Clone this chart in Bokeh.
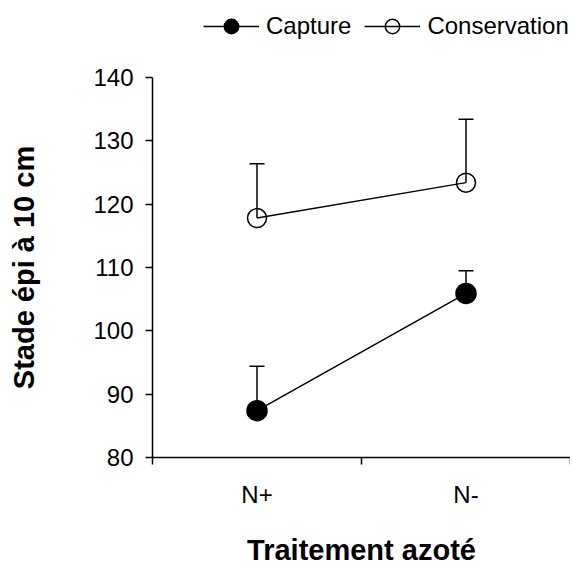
from bokeh.plotting import figure
from bokeh.layouts import column
from bokeh.models import (ColumnDataSource, FixedTicker, Whisker, TeeHead, Legend,
                          LegendItem, CustomJSTickFormatter, Range1d)
from bokeh.embed import file_html
from bokeh.resources import INLINE

categories = ["N+", "N-"]
capture = [87.4, 105.9]
capture_err_top = [94.4, 109.5]
conservation = [117.8, 123.4]
conservation_err_top = [126.4, 133.4]
y_ticks = [80, 90, 100, 110, 120, 130, 140]

FONT = "Liberation Sans"

W = 570
LEG_H = 65          # strip above the plot that holds the legend
MAIN_H = 503
LEFT = 152
TOP = 12
BOTTOM = 109

xs = [i + 0.5 for i in range(len(categories))]

src_cap = ColumnDataSource(dict(x=xs, y=capture, up=capture_err_top))
src_con = ColumnDataSource(dict(x=xs, y=conservation, up=conservation_err_top))

# ---------- main plot ----------
p = figure(width=W, height=MAIN_H, output_backend="svg", toolbar_location=None,
           x_range=Range1d(0, len(categories)),
           y_range=Range1d(y_ticks[0], y_ticks[-1]),
           min_border_left=LEFT, min_border_right=0, min_border_top=TOP,
           min_border_bottom=BOTTOM)
p.outline_line_color = None
p.grid.visible = False
p.background_fill_color = "white"

for src in (src_cap, src_con):
    w = Whisker(source=src, base="x", lower="y", upper="up", dimension="height",
                line_color="black", line_width=1.5,
                upper_head=TeeHead(size=15, line_color="black", line_width=1.5),
                lower_head=None)
    p.add_layout(w)

p.line("x", "y", source=src_cap, line_color="black", line_width=1.5)
p.scatter("x", "y", source=src_cap, size=20, marker="circle",
          fill_color="black", line_color="black", line_width=1.5)
p.line("x", "y", source=src_con, line_color="black", line_width=1.5)
p.scatter("x", "y", source=src_con, size=19, marker="circle",
          fill_color=None, line_color="black", line_width=1.5)

ya = p.yaxis[0]
ya.ticker = FixedTicker(ticks=y_ticks)
ya.major_tick_out = 7
ya.major_tick_in = 0
ya.minor_tick_line_color = None
ya.major_label_standoff = 12
ya.axis_label = "Stade épi à 10 cm"
ya.axis_label_standoff = 50

xa = p.xaxis[0]
xa.ticker = FixedTicker(ticks=xs, minor_ticks=list(range(len(categories) + 1)))
xa.formatter = CustomJSTickFormatter(args=dict(labels=categories),
                                     code="return labels[Math.floor(tick)]")
xa.major_tick_out = 0
xa.major_tick_in = 0
xa.minor_tick_out = 7
xa.minor_tick_in = 0
xa.major_label_standoff = 16
xa.axis_label = "Traitement azoté"
xa.axis_label_standoff = 23

for ax in (xa, ya):
    ax.axis_line_color = "black"
    ax.axis_line_width = 1.5
    ax.major_tick_line_color = "black"
    ax.major_tick_line_width = 1.5
    ax.major_label_text_font = FONT
    ax.major_label_text_font_size = "24px"
    ax.major_label_text_color = "black"
    ax.axis_label_text_font = FONT
    ax.axis_label_text_font_size = "29px"
    ax.axis_label_text_font_style = "bold"
    ax.axis_label_text_color = "black"
xa.minor_tick_line_color = "black"
xa.minor_tick_line_width = 1.5
xa.major_tick_line_color = None

# ---------- legend strip ----------
top = figure(width=W, height=LEG_H, output_backend="svg", toolbar_location=None,
             x_range=Range1d(0, len(categories)), y_range=Range1d(0, 1),
             x_axis_location=None, y_axis_location=None,
             min_border_left=0, min_border_right=0, min_border_top=0,
             min_border_bottom=0)
top.outline_line_color = None
top.grid.visible = False
top.background_fill_color = "white"

l1 = top.line("x", "y", source=src_cap, line_color="black", line_width=1.5)
s1 = top.scatter("x", "y", source=src_cap, size=20, marker="circle",
                 fill_color="black", line_color="black", line_width=1.5)
l2 = top.line("x", "y", source=src_con, line_color="black", line_width=1.5)
s2 = top.scatter("x", "y", source=src_con, size=19, marker="circle",
                 fill_color=None, line_color="black", line_width=1.5)

# the column aligns this strip's frame with the main plot's frame (left = LEFT)
GLYPH_H = 36
legend = Legend(items=[LegendItem(label="Capture", renderers=[l1, s1]),
                       LegendItem(label="Conservation", renderers=[l2, s2])],
                orientation="horizontal", location=(203 - LEFT, LEG_H - 8 - GLYPH_H),
                label_text_font=FONT, label_text_font_size="24px",
                label_text_color="black",
                glyph_width=56, glyph_height=GLYPH_H, label_standoff=7, spacing=13,
                padding=0, margin=0, border_line_color=None,
                background_fill_alpha=0)
top.add_layout(legend, "center")

layout = column(top, p, spacing=0)

open("out.html", "w").write(file_html(layout, INLINE))
